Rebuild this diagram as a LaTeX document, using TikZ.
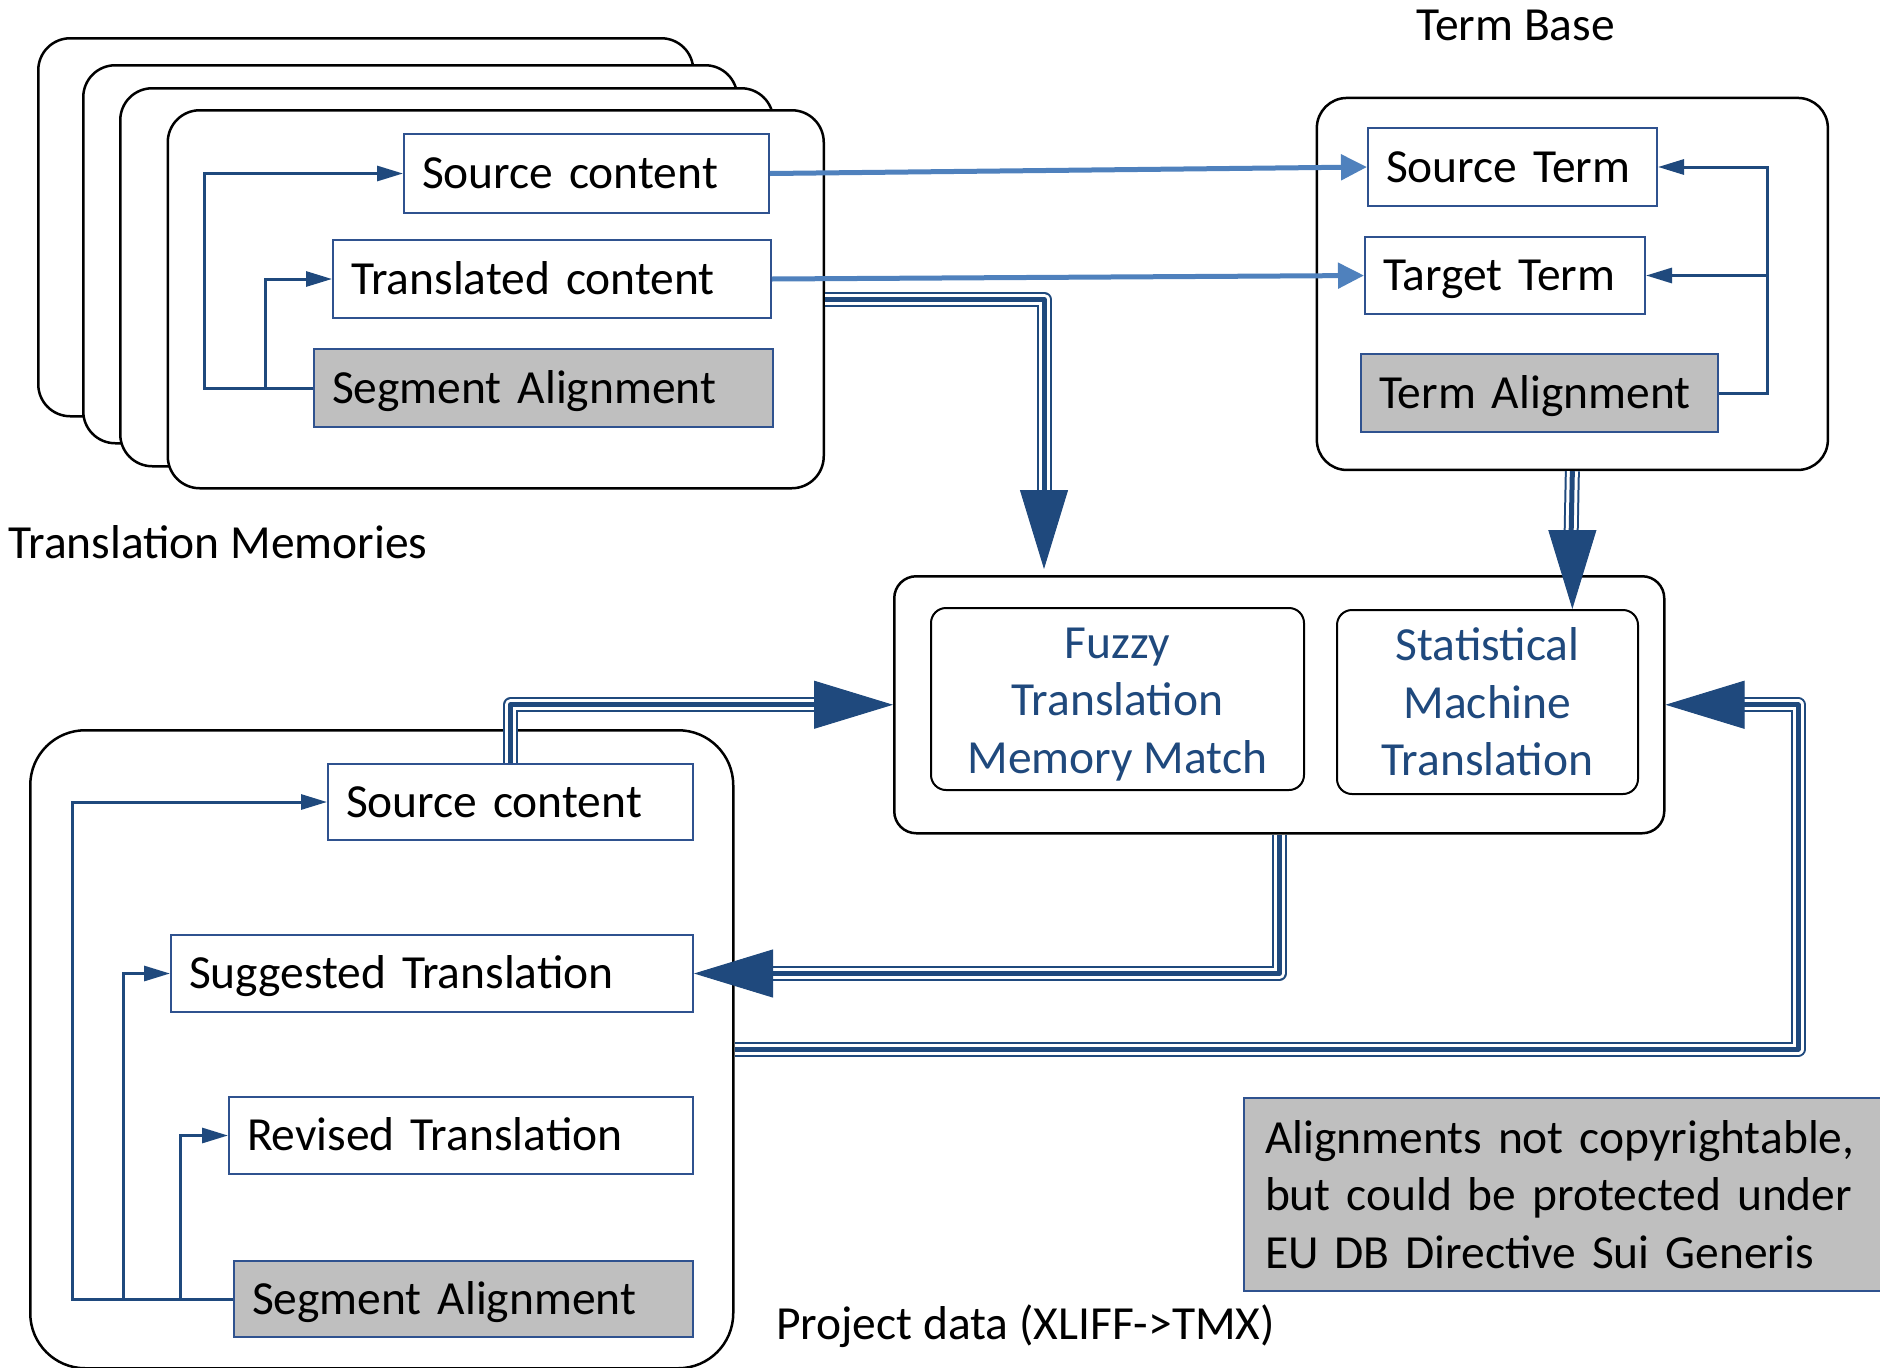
\documentclass[tikz,border=0pt]{standalone}
\usepackage{fontspec}
\setmainfont{Carlito}
\usetikzlibrary{arrows.meta}
\definecolor{dblue}{RGB}{31,73,125}
\definecolor{lblue}{RGB}{79,129,189}
\definecolor{bborder}{RGB}{47,82,143}
\definecolor{gfill}{RGB}{191,191,191}
\newcommand\dfont{\fontsize{47.5pt}{57.5pt}\selectfont}
\begin{document}
\begin{tikzpicture}[x=1pt,y=-1pt,
 container/.style={draw=black, line width=2.5pt, fill=white, anchor=north west, inner sep=0pt, rounded corners=#1},
 ibox/.style={draw=bborder, line width=2pt, fill=white, anchor=north west, inner xsep=18pt, inner ysep=0pt, text height=30.5pt, text depth=0pt, align=left, font=\dfont},
 gbox/.style={ibox, fill=gfill},
 mtbox/.style={draw=black, line width=2pt, fill=white, anchor=north west, rounded corners=15pt, inner sep=0pt, align=center, font=\dfont, text=dblue},
 lbl/.style={anchor=west, inner sep=0pt, text height=30.5pt, text depth=0pt, font=\dfont},
 fb/.style={draw=dblue, line width=3pt, -{Triangle[length=26pt,width=15pt]}},
 lb/.style={draw=lblue, line width=5pt, -{Triangle[length=26pt,width=25pt]}},
 triple/.style={draw=dblue, line width=15pt, line join=round, postaction={draw=white, line width=11pt}, postaction={draw=dblue, line width=5pt}},
 bigarrow/.style={draw=dblue, line width=1pt, -{Triangle[length=79pt,width=48pt]}}
]
\useasboundingbox (0,0) rectangle (1880,1368);

% Translation memories stack
\node[container=32pt, minimum width=655pt, minimum height=378pt] (tm1) at (37,37) {};
\node[container=32pt, minimum width=654pt, minimum height=378pt] (tm2) at (82,64) {};
\node[container=32pt, minimum width=653pt, minimum height=378pt] (tm3) at (119,87) {};
\node[container=32pt, minimum width=656pt, minimum height=378pt] (tm4) at (166.5,109) {};

% Term base
\node[container=30pt, minimum width=511pt, minimum height=372pt] (tb) at (1315.6,96.7) {};

% MT engine
\node[container=22pt, minimum width=770pt, minimum height=257pt] (mt) at (893,575) {};

% Project data
\node[container=55pt, minimum width=703pt, minimum height=638pt] (proj) at (29,729) {};

% TM inner boxes
\node[ibox, text width=329pt, minimum height=79pt] (sc) at (403,133) {Source content};
\node[ibox, text width=402pt, minimum height=78pt] (tc) at (332,239) {Translated content};
\node[gbox, text width=423pt, minimum height=78pt] (sa) at (313,348) {Segment Alignment};

% TB inner boxes
\node[ibox, text width=253pt, minimum height=78pt] (st) at (1367,127) {Source Term};
\node[ibox, text width=244pt, minimum height=77pt] (tt) at (1364,236) {Target Term};
\node[gbox, text width=321pt, minimum height=78pt] (ta) at (1360,353) {Term Alignment};

% MT inner boxes
\node[mtbox, minimum width=373pt, minimum height=182pt] (fz) at (930,607) {\rule{0pt}{41pt}Fuzzy\\Translation\\Memory Match};
\node[mtbox, minimum width=301pt, minimum height=184pt] (smt) at (1336,609) {Statistical\\Machine\\Translation};

% Project inner boxes
\node[ibox, text width=329pt, minimum height=76pt] (psc) at (327,763) {Source content};
\node[ibox, text width=486pt, minimum height=77pt] (pst) at (170,934) {Suggested Translation};
\node[ibox, text width=428pt, minimum height=77pt] (prt) at (228,1096) {Revised Translation};
\node[gbox, text width=423pt, minimum height=76pt] (psa) at (233,1260) {Segment Alignment};

% Note
\node[draw=bborder, line width=2pt, fill=gfill, anchor=north west, inner xsep=21pt, inner ysep=0pt, text width=608pt, minimum height=193pt, align=left, font=\dfont] (note) at (1243,1097) {Alignments not copyrightable,\\but could be protected under\\EU DB Directive Sui Generis};

% Labels
\node[lbl] (tmlabel) at (8,543) {Translation Memories};
\node[lbl] (tblabel) at (1416,25) {Term Base};
\node[lbl] (pdlabel) at (776,1324) {Project data (XLIFF->TMX)};

% Alignment feedback lines
\draw[fb] (sa.west) -- ++(-109,0) |- (sc.west);
\draw[fb] (sa.west) -- ++(-48,0) |- (tc.west);
\draw[fb] (ta.east) -- ++(48,0) |- (st.east);
\draw[fb] (ta.east) -- ++(48,0) |- (tt.east);
\draw[fb] (psa.west) -- ++(-161,0) |- (psc.west);
\draw[fb] (psa.west) -- ++(-110,0) |- (pst.west);
\draw[fb] (psa.west) -- ++(-53,0) |- (prt.west);

% Light blue term extraction
\draw[lb] (sc.east) -- (st.west);
\draw[lb] (tc.east) -- (tt.west);

% Triple connectors
\coordinate (k1) at (1044,495);
\coordinate (k1a) at (1044,480);
\draw[triple] (tm4.east) -| (k1);
\draw[bigarrow, shorten >=6pt] (k1a) -- (k1a |- mt.north);

\coordinate (k2) at (1571,540);
\draw[triple] (tb.south) -- (k2);
\draw[bigarrow] (tb.south) -- (tb.south |- smt.north);

\coordinate (k3) at (820,0);
\draw[triple] (psc.north) |- (k3 |- mt.west);
\draw[bigarrow] (psc.north) |- (mt.west);

\coordinate (k4) at (765,0);
\draw[triple] (mt.south) |- (k4 |- pst.east);
\draw[bigarrow] (mt.south) |- (pst.east);

\coordinate (k5) at (1798,0);
\coordinate (k6) at (1738,0);
\draw[triple] (proj.east) -| (k5 |- mt.east) -- (k6 |- mt.east);
\draw[bigarrow] (proj.east) -| (k5 |- mt.east) -- (mt.east);
\end{tikzpicture}
\end{document}
